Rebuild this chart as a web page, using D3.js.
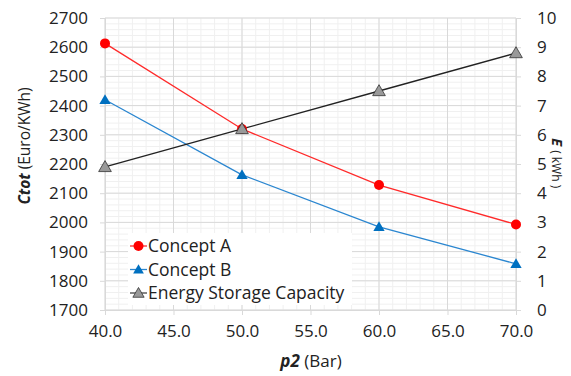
<!DOCTYPE html>
<html>
<head>
<meta charset="utf-8">
<script src="https://cdn.jsdelivr.net/npm/d3@7"></script>
<style>
  body { margin: 0; background: #fff; }
  svg text { font-family: "Open Sans", Lato, sans-serif; fill: #222; }
</style>
</head>
<body>
<div id="chart"></div>
<script>
// data
var pressures = [40, 50, 60, 70];
var conceptA = [2613, 2320, 2128, 1993];
var conceptB = [2420, 2163, 1985, 1858];
var energy = [4.9, 6.2, 7.5, 8.8];
var xTicks = [40, 45, 50, 55, 60, 65, 70];
var yTicks = d3.range(1700, 2701, 100);
var y2Ticks = d3.range(0, 11, 1);
var legendNames = ["Concept A", "Concept B", "Energy Storage Capacity"];

var width = 571, height = 376;
var margin = {top: 18, right: 55, bottom: 66, left: 105};

var svg = d3.select("#chart").append("svg")
    .attr("width", width)
    .attr("height", height);

var x = d3.scaleLinear().domain([40, 70]).range([margin.left, width - margin.right]);
var y = d3.scaleLinear().domain([1700, 2700]).range([height - margin.bottom, margin.top]);
var y2 = d3.scaleLinear().domain([0, 10]).range([height - margin.bottom, margin.top]);

// minor grid
svg.append("g")
    .selectAll("line")
    .data(d3.range(1700, 2701, 20))
    .enter().append("line")
    .attr("x1", x(40)).attr("x2", x(70))
    .attr("y1", d => y(d)).attr("y2", d => y(d))
    .attr("stroke", "#f0f0f0");
svg.append("g")
    .selectAll("line")
    .data(d3.range(40, 71, 1))
    .enter().append("line")
    .attr("y1", y(1700)).attr("y2", y(2700))
    .attr("x1", d => x(d)).attr("x2", d => x(d))
    .attr("stroke", "#f0f0f0");

// major grid
svg.append("g")
    .selectAll("line")
    .data(yTicks)
    .enter().append("line")
    .attr("x1", x(40)).attr("x2", x(70))
    .attr("y1", d => y(d)).attr("y2", d => y(d))
    .attr("stroke", "#d9d9d9");
svg.append("g")
    .selectAll("line")
    .data(xTicks)
    .enter().append("line")
    .attr("y1", y(1700)).attr("y2", y(2700))
    .attr("x1", d => x(d)).attr("x2", d => x(d))
    .attr("stroke", "#d9d9d9");

// axes
var xAxis = svg.append("g")
    .attr("transform", "translate(0," + y(1700) + ")")
    .call(d3.axisBottom(x).tickValues(xTicks).tickFormat(d3.format(".1f")).tickSize(5).tickPadding(10));
var yAxis = svg.append("g")
    .attr("transform", "translate(" + x(40) + ",0)")
    .call(d3.axisLeft(y).tickValues(yTicks).tickFormat(d3.format("d")).tickSize(5).tickPadding(12));
var y2Axis = svg.append("g")
    .attr("transform", "translate(" + x(70) + ",0)")
    .call(d3.axisRight(y2).tickValues(y2Ticks).tickSize(5).tickPadding(16));

[xAxis, yAxis, y2Axis].forEach(function (a) {
    a.select(".domain").attr("stroke", "#d9d9d9");
    a.selectAll(".tick line").attr("stroke", "#d9d9d9");
    a.selectAll(".tick text").style("font-size", "17px").attr("fill", "#222");
});

// lines
var line = function (vals, scale) {
    return d3.line()
        .x((d, i) => x(pressures[i]))
        .y(d => scale(d))(vals);
};

svg.append("path").attr("d", line(conceptA, y))
    .attr("fill", "none").attr("stroke", "#ff2a2a").attr("stroke-width", 1.3);
svg.append("path").attr("d", line(conceptB, y))
    .attr("fill", "none").attr("stroke", "#2a86d0").attr("stroke-width", 1.3);
svg.append("path").attr("d", line(energy, y2))
    .attr("fill", "none").attr("stroke", "#222").attr("stroke-width", 1.3);

var tri = d3.symbol().type(d3.symbolTriangle);

svg.append("g").selectAll("circle")
    .data(conceptA).enter().append("circle")
    .attr("cx", (d, i) => x(pressures[i])).attr("cy", d => y(d))
    .attr("r", 5).attr("fill", "#ff0000");
svg.append("g").selectAll("path")
    .data(conceptB).enter().append("path")
    .attr("transform", (d, i) => "translate(" + x(pressures[i]) + "," + (y(d) + 1) + ")")
    .attr("d", tri.size(55)).attr("fill", "#0070c0");
svg.append("g").selectAll("path")
    .data(energy).enter().append("path")
    .attr("transform", (d, i) => "translate(" + x(pressures[i]) + "," + (y2(d) + 1) + ")")
    .attr("d", tri.size(70)).attr("fill", "#999").attr("stroke", "#333").attr("stroke-width", 0.8);

// legend
var legend = svg.append("g").attr("transform", "translate(128,233)");
legend.append("rect").attr("width", 224).attr("height", 72).attr("fill", "#fff");
var items = legend.selectAll("g")
    .data(legendNames).enter().append("g")
    .attr("transform", (d, i) => "translate(2," + (13 + i * 23.5) + ")");
items.append("line").attr("x1", 0).attr("x2", 17)
    .attr("stroke", (d, i) => ["#ff2a2a", "#2a86d0", "#444"][i]).attr("stroke-width", 1.3);
items.each(function (d, i) {
    var g = d3.select(this);
    if (i === 0) {
        g.append("circle").attr("cx", 8.5).attr("r", 5).attr("fill", "#ff0000");
    } else if (i === 1) {
        g.append("path").attr("transform", "translate(8.5,1)").attr("d", tri.size(50)).attr("fill", "#0070c0");
    } else {
        g.append("path").attr("transform", "translate(8.5,1)").attr("d", tri.size(55))
            .attr("fill", "#999").attr("stroke", "#333").attr("stroke-width", 0.8);
    }
});
items.append("text").attr("x", 18).attr("dy", "0.35em")
    .style("font-size", "17.5px").text(d => d);

// axis titles
var ytitle = svg.append("text")
    .attr("transform", "translate(30,146) rotate(-90)")
    .attr("text-anchor", "middle")
    .style("font-size", "15.5px");
ytitle.append("tspan").style("font-weight", "bold").style("font-style", "italic").text("Ctot");
ytitle.append("tspan").text(" (Euro/KWh)");

var y2title = svg.append("text")
    .attr("transform", "translate(552,138) rotate(90)")
    .attr("text-anchor", "start");
y2title.append("tspan").style("font-weight", "bold").style("font-style", "italic").style("font-size", "15px").text("E");
y2title.append("tspan").attr("dx", 4).style("font-size", "12px").text("( kWh )");

var xtitle = svg.append("text")
    .attr("x", 311).attr("y", 367)
    .attr("text-anchor", "middle")
    .style("font-size", "17px");
xtitle.append("tspan").style("font-weight", "bold").style("font-style", "italic").text("p2");
xtitle.append("tspan").text(" (Bar)");
</script>
</body>
</html>
